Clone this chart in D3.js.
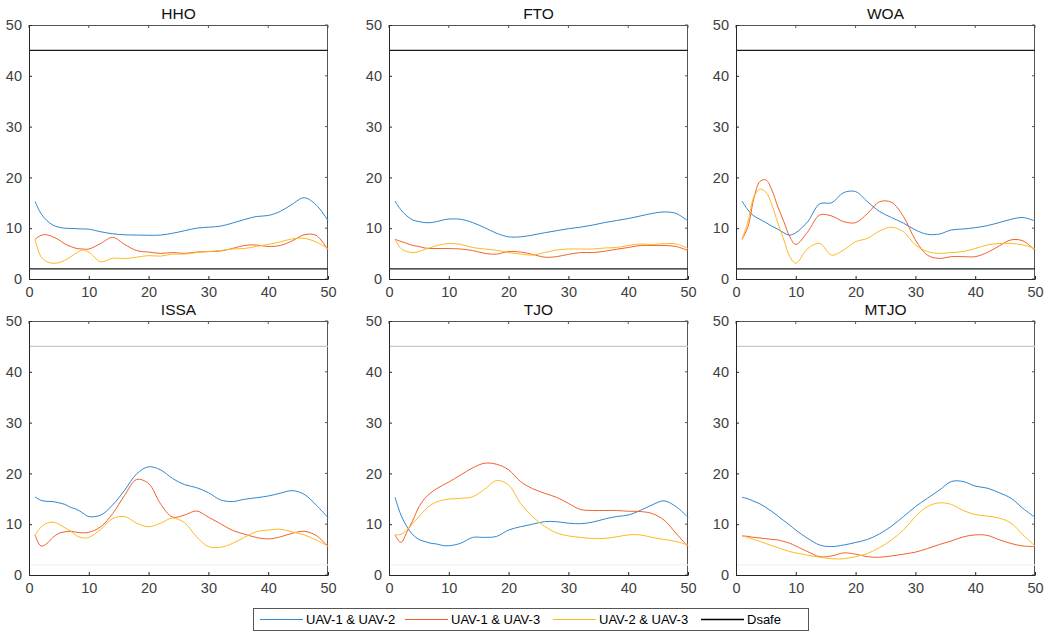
<!DOCTYPE html>
<html><head><meta charset="utf-8">
<script src="https://cdn.jsdelivr.net/npm/d3@7"></script>
<style>body{margin:0;background:#fff;}svg{display:block;font-family:"Liberation Sans",Arial,sans-serif;}text{font-weight:400;}</style>
</head><body><svg id="c" width="1048" height="636"></svg>
<script>
const xs = [1,2,3,4,5,6,7,8,9,10,12,14,16,18,20,22,24,26,28,30,32,34,36,38,40,42,44,46,48,50];
const titles = ["HHO","FTO","WOA","ISSA","TJO","MTJO"];
const seriesNames = ["UAV-1 & UAV-2","UAV-1 & UAV-3","UAV-2 & UAV-3"];
const seriesColors = ["#2f87d0","#f4602a","#fdb924"];
const dsafeValues = [45, 2];
const yTicks = [0,10,20,30,40,50];
const xTicks = [0,10,20,30,40,50];

const hho12 = [15.3,12.9,11.5,10.6,10.2,10.0,9.95,9.9,9.85,9.8,9.3,8.9,8.7,8.65,8.6,8.65,9.0,9.5,10.0,10.2,10.4,11.0,11.7,12.3,12.5,13.3,14.7,16.0,14.6,11.5];
const hho13 = [7.8,8.6,8.7,8.3,7.7,6.9,6.4,6.0,5.9,5.9,7.0,8.2,6.8,5.6,5.3,5.05,5.2,5.05,5.3,5.4,5.5,6.0,6.6,6.7,6.4,6.6,7.5,8.7,8.6,5.7];
const hho23 = [7.8,4.4,3.4,3.1,3.2,3.7,4.4,5.2,5.7,5.3,3.4,4.1,4.0,4.3,4.6,4.5,4.9,4.9,5.2,5.4,5.6,5.9,6.0,6.4,6.8,7.3,7.9,8.0,7.3,6.0];

const fto12 = [15.35,13.6,12.4,11.6,11.3,11.1,11.1,11.3,11.6,11.8,11.75,11.1,10.1,9.0,8.3,8.3,8.65,9.1,9.5,9.9,10.2,10.6,11.1,11.5,11.9,12.4,12.9,13.2,12.9,11.4];
const fto13 = [7.8,7.4,7.0,6.6,6.4,6.1,6.0,6.0,6.0,6.0,5.9,5.6,5.05,4.9,5.4,5.3,4.85,4.3,4.4,4.85,5.2,5.2,5.45,5.85,6.2,6.6,6.6,6.6,6.4,5.6];
const fto23 = [7.8,6.0,5.4,5.2,5.4,5.85,6.2,6.6,6.8,7.0,6.8,6.2,5.9,5.65,5.2,4.9,4.7,5.2,5.7,5.9,5.9,5.9,6.1,6.2,6.6,6.9,6.8,6.95,6.9,6.0];

const woa12 = [15.35,13.6,12.4,11.75,11.1,10.4,9.8,9.1,8.65,9.1,11.3,14.8,15.0,17.0,17.2,15.2,13.3,12.1,11.0,9.65,8.8,8.85,9.65,9.85,10.1,10.5,11.1,11.75,12.1,11.4];
const woa13 = [7.8,10.3,15.9,19.2,19.5,17.5,14.2,11.3,8.3,6.8,9.3,12.6,12.4,11.3,11.1,12.9,15.2,15.1,12.3,7.7,4.7,4.05,4.4,4.4,4.4,5.2,6.5,7.7,7.5,5.6];
const woa23 = [7.8,11.3,16.2,17.7,17.1,14.6,11.0,7.7,4.4,3.1,6.0,7.0,4.7,5.7,7.35,8.0,9.45,10.2,9.3,6.7,5.4,5.05,5.2,5.4,6.0,6.7,7.0,7.0,6.7,6.0];

const issa12 = [15.4,14.7,14.5,14.45,14.2,13.9,13.3,12.9,12.2,11.5,11.8,13.8,16.7,19.9,21.3,20.7,19.0,17.8,17.2,16.2,14.8,14.45,14.9,15.2,15.55,16.1,16.6,15.9,13.8,11.3];
const issa13 = [7.9,5.7,6.2,7.4,8.2,8.5,8.6,8.4,8.3,8.4,9.5,12.1,15.7,18.8,18.0,14.0,11.4,11.8,12.6,11.4,10.1,8.8,8.05,7.4,7.1,7.5,8.2,8.6,7.8,5.55];
const issa23 = [7.9,9.4,10.2,10.4,10.0,9.3,8.6,7.7,7.3,7.4,9.0,11.1,11.5,10.2,9.5,10.2,11.2,10.3,7.55,5.6,5.45,6.2,7.4,8.5,8.85,9.0,8.5,7.9,6.9,5.7];

const tjo12 = [15.3,11.8,9.5,7.9,7.0,6.6,6.25,6.1,5.8,5.75,6.25,7.4,7.4,7.6,8.85,9.5,10.0,10.5,10.5,10.2,10.1,10.4,11.0,11.5,11.8,12.7,13.8,14.6,13.45,11.35];
const tjo13 = [7.9,6.4,8.5,10.8,13.4,15.1,16.2,17.0,17.7,18.3,19.7,21.1,22.0,21.8,20.7,18.4,17.0,16.1,15.3,14.1,12.9,12.7,12.7,12.7,12.55,12.5,12.1,10.8,8.2,5.6];
const tjo23 = [7.9,8.0,8.85,10.2,11.5,12.8,13.8,14.4,14.75,14.95,15.1,15.4,16.9,18.6,17.7,14.1,11.5,9.6,8.3,7.7,7.4,7.2,7.2,7.5,7.9,7.9,7.4,7.0,6.6,5.9];

const mtjo12 = [15.3,15.0,14.5,14.0,13.3,12.5,11.6,10.7,9.8,8.85,7.2,5.9,5.6,5.9,6.4,7.0,8.1,9.6,11.5,13.45,15.1,16.7,18.4,18.4,17.5,17.1,16.2,15.1,13.1,11.35];
const mtjo13 = [7.7,7.6,7.4,7.3,7.15,7.0,6.9,6.6,6.25,5.7,4.6,3.6,3.75,4.35,4.1,3.6,3.5,3.75,4.1,4.5,5.2,6.0,6.7,7.5,7.9,7.8,6.95,6.2,5.7,5.6];
const mtjo23 = [7.7,7.4,7.0,6.6,6.2,5.75,5.4,5.0,4.6,4.35,3.9,3.5,3.2,3.2,3.6,4.25,5.4,6.9,8.85,11.5,13.45,14.2,13.9,12.7,11.9,11.6,11.2,10.2,7.9,5.7];

const panelsData = [
  [hho12,hho13,hho23],[fto12,fto13,fto23],[woa12,woa13,woa23],
  [issa12,issa13,issa23],[tjo12,tjo13,tjo23],[mtjo12,mtjo13,mtjo23]
];

const svg = d3.select("#c");
const lefts = [29, 389, 736];
const tops = [25, 321];
const W = 299, H = 254;
const axisColor = "#262626";
const tickColor = "#404040";

panelsData.forEach((series, i) => {
  const col = i % 3, row = Math.floor(i / 3);
  const g = svg.append("g").attr("transform", `translate(${lefts[col]},${tops[row]})`);
  const x = d3.scaleLinear().domain([0,50]).range([0,W]);
  const y = d3.scaleLinear().domain([0,50]).range([H,0]);

  g.append("line").attr("x1",0).attr("x2",W).attr("y1",0.5).attr("y2",0.5).attr("stroke","#555").attr("stroke-width",1);
  g.append("line").attr("x1",W-0.5).attr("x2",W-0.5).attr("y1",0).attr("y2",H).attr("stroke","#555").attr("stroke-width",1);
  yTicks.forEach(t => {
    g.append("line").attr("x1",W).attr("x2",W-3).attr("y1",y(t)).attr("y2",y(t)).attr("stroke","#555");
  });
  xTicks.forEach(t => {
    g.append("line").attr("x1",x(t)).attr("x2",x(t)).attr("y1",0).attr("y2",3).attr("stroke","#555");
  });

  const dsColors = row === 0 ? ["#1a1a1a","#1a1a1a"] : ["#c8c8c8","#f2f2f2"];
  dsafeValues.forEach((v, k) => {
    g.append("line").attr("x1",x(0)).attr("x2",x(50)).attr("y1",y(v)).attr("y2",y(v))
      .attr("stroke",dsColors[k]).attr("stroke-width",1.1);
  });

  const line = d3.line().x((d,j)=>x(xs[j])).y(d=>y(d)).curve(d3.curveCatmullRom.alpha(0.5));
  series.forEach((s, k) => {
    g.append("path").datum(s).attr("d", line).attr("fill","none")
      .attr("stroke", seriesColors[k]).attr("stroke-width",1);
  });

  const ax = g.append("g").attr("transform",`translate(0,${H})`)
    .call(d3.axisBottom(x).tickValues(xTicks).tickSizeInner(-3).tickSizeOuter(0).tickPadding(8));
  const ay = g.append("g")
    .call(d3.axisLeft(y).tickValues(yTicks).tickSizeInner(-3).tickSizeOuter(0).tickPadding(7));
  [ax, ay].forEach(a => {
    a.attr("font-family", null).attr("font-size", null);
    a.select(".domain").attr("stroke",axisColor);
    a.selectAll(".tick line").attr("stroke",axisColor);
    a.selectAll(".tick text").attr("fill",tickColor).style("font-size","14.5px").style("font-weight","400");
  });

  g.append("text").attr("x",W/2).attr("y",-6).attr("text-anchor","middle")
    .style("font-size","15.5px").style("font-weight","400").attr("fill","#111").text(titles[i]);
});

const lg = svg.append("g");
lg.append("rect").attr("x",253.5).attr("y",608.5).attr("width",555).attr("height",22)
  .attr("fill","#fff").attr("stroke","#555").attr("stroke-width",1);
const legItems = seriesNames.map((n,k)=>({name:n,color:seriesColors[k]})).concat([{name:"Dsafe",color:"#000"}]);
const legX = [260, 405, 553, 701];
legItems.forEach((it, k) => {
  lg.append("line").attr("x1",legX[k]).attr("x2",legX[k]+43).attr("y1",619.5).attr("y2",619.5)
    .attr("stroke",it.color).attr("stroke-width", k===3?1.5:1.2);
  lg.append("text").attr("x",legX[k]+46).attr("y",624).style("font-size","13px").attr("fill","#000").text(it.name);
});
</script></body></html>
